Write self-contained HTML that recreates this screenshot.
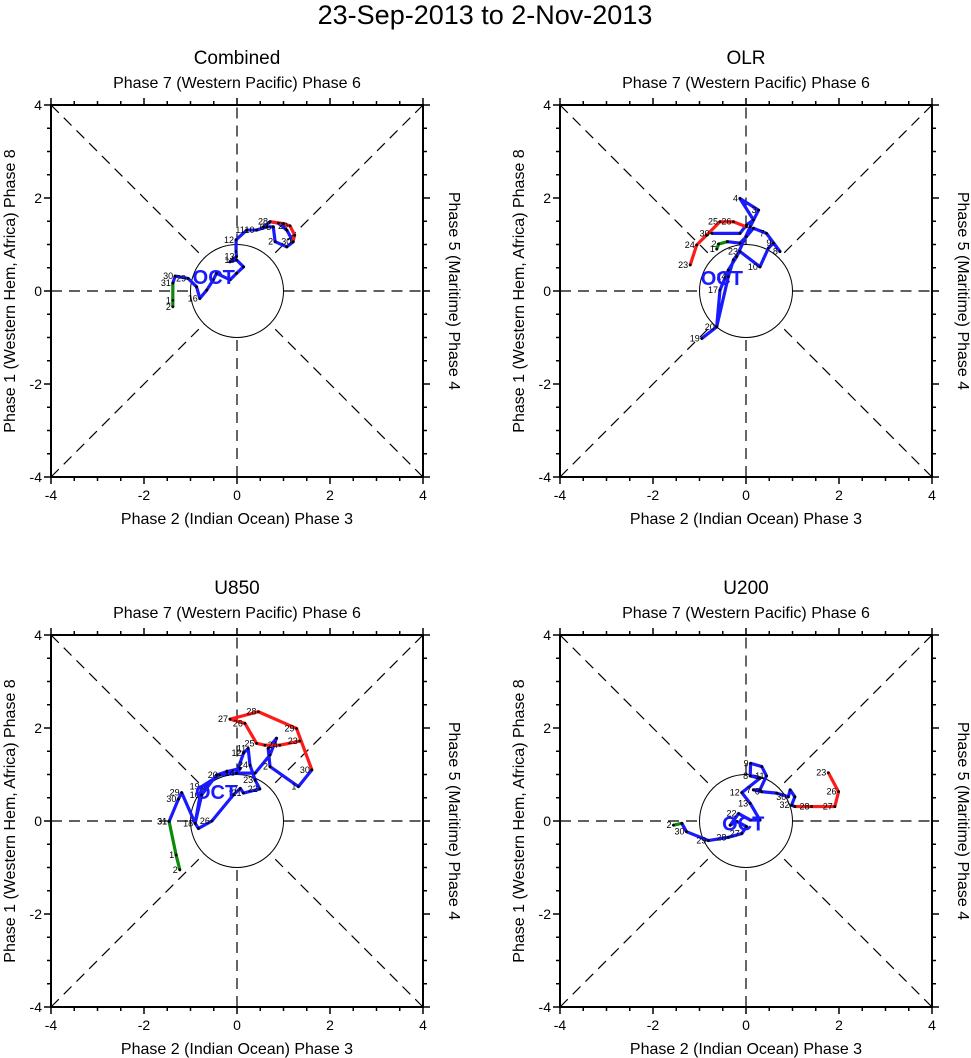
<!DOCTYPE html>
<html><head><meta charset="utf-8"><style>
html,body{margin:0;padding:0;background:#fff;}
svg{display:block;font-family:"Liberation Sans",sans-serif;}
</style></head><body>
<svg id="root" width="971" height="1058" viewBox="0 0 971 1058">
<text x="485" y="24" text-anchor="middle" font-size="27">23-Sep-2013 to 2-Nov-2013</text>
</svg>
<script>
// ---- data (RMM1, RMM2 values) ----
const combGreenX=[-1.38,-1.38,-1.38];
const combGreenY=[-0.34,-0.20,0.17];
const combGreenL=['2','1','31'];
const combBlueX=[-1.38,-1.33,-1.05,-0.87,-0.80,-0.65,-0.51,-0.44,-0.15,-0.01,0.14,-0.01,-0.15,-0.01,-0.02,-0.02,0.21,0.42,0.64,0.78,0.82,1.07,1.21,1.07,0.89,0.71,0.57];
const combBlueY=[0.17,0.32,0.27,0.09,-0.16,0.02,0.24,0.38,0.24,0.38,0.52,0.67,0.63,0.74,0.85,1.10,1.31,1.31,1.38,1.38,1.06,0.95,1.06,1.31,1.46,1.49,1.38];
const combBlueL=['','30','29','','16','','','','','','','14','','13','','12','11','10','6','5','2','','30','','','',''];
const combRedX=[0.71,1.00,1.14,1.24,1.20];
const combRedY=[1.49,1.45,1.40,1.20,1.05];
const combRedL=['28','','29','',''];

const olrGreenX=[-0.63,-0.59,-0.40];
const olrGreenY=[0.90,1.01,1.06];
const olrGreenL=['1','2',''];
const olrBlueX=[-0.40,-0.13,0.01,0.16,0.44,0.73,0.59,0.48,0.30,-0.13,-0.27,-0.38,-0.63,-0.95,-0.63,-0.56,-0.38,-0.20,0.09,0.27,-0.13,0.16,0.01,-0.13,-0.74];
const olrBlueY=[1.06,1.03,1.17,1.35,1.24,0.85,1.03,0.92,0.52,0.85,0.67,0.31,-0.77,-1.02,-0.77,0.02,0.45,0.74,1.38,1.74,1.99,1.53,1.42,1.24,1.24];
const olrBlueL=['','','','','7','8','9','','10','23','','14','20','19','','17','','','','3','4','','','','30'];
const olrRedX=[-1.20,-1.06,-0.85,-0.56,-0.27,0.01];
const olrRedY=[0.56,0.99,1.20,1.49,1.49,1.38];
const olrRedL=['23','24','','25','26',''];

const u850GreenX=[-1.23,-1.31,-1.46];
const u850GreenY=[-1.05,-0.73,-0.01];
const u850GreenL=['2','1','31'];
const u850BlueX=[-1.46,-1.26,-1.19,-0.90,-0.76,-0.37,-0.01,0.07,-0.22,-0.44,-0.76,-0.90,-0.83,-0.54,-0.08,0.07,0.14,0.49,0.39,0.28,0.24,0.14,-0.01,0.39,0.71,0.85,0.67,0.71,1.32,1.61];
const u850BlueY=[-0.01,0.47,0.61,-0.05,0.74,0.99,1.03,1.13,1.06,0.99,0.56,-0.05,-0.16,0.00,0.56,0.70,0.60,0.69,0.88,1.20,1.56,1.46,1.03,1.03,1.42,1.78,1.56,1.17,0.74,1.10];
const u850BlueL=['31','30','29','18','19','20','14','','','','16','','','26','','17','21','22','23','24','11','12','','','','','','2','1','30'];
const u850RedX=[1.61,1.28,0.46,-0.15,0.17,0.42,0.60,0.92,1.35];
const u850RedY=[1.10,1.99,2.35,2.19,2.10,1.67,1.63,1.63,1.72];
const u850RedL=['','29','28','27','26','25','','24','23'];

const u200GreenX=[-1.56,-1.38];
const u200GreenY=[-0.09,-0.05];
const u200GreenL=['2',''];
const u200BlueX=[-1.38,-1.28,-0.81,-0.38,-0.09,0.01,-0.20,-0.34,-0.16,0.09,0.30,0.09,-0.09,0.30,0.09,0.10,0.34,0.44,0.30,0.16,0.34,0.66,0.91,0.95,1.05,0.98,1.05];
const u200BlueY=[-0.05,-0.23,-0.42,-0.35,-0.27,-0.12,-0.01,-0.09,0.16,0.02,0.02,0.38,0.61,0.92,0.97,1.24,1.17,0.97,0.67,0.67,0.63,0.60,0.52,0.67,0.52,0.34,0.31];
const u200BlueL=['','30','29','28','27','','','','22','','','13','12','','8','9','','11','','7','6','','30','','','32',''];
const u200RedX=[1.05,1.41,1.91,1.99,1.77];
const u200RedY=[0.31,0.31,0.31,0.63,1.04];
const u200RedL=['','28','27','26','23'];

const tickVals=[-4,-2,0,2,4];
const panels=[
 {id:'combined',title:'Combined',cx:237,cy:291,octX:-0.5,octY:0.3,
  s:[[combGreenX,combGreenY,combGreenL,'#0a8a0a'],[combBlueX,combBlueY,combBlueL,'#1a1aff'],[combRedX,combRedY,combRedL,'#ff1a1a']]},
 {id:'olr',title:'OLR',cx:746,cy:291,octX:-0.52,octY:0.28,
  s:[[olrGreenX,olrGreenY,olrGreenL,'#0a8a0a'],[olrBlueX,olrBlueY,olrBlueL,'#1a1aff'],[olrRedX,olrRedY,olrRedL,'#ff1a1a']]},
 {id:'u850',title:'U850',cx:237,cy:821,octX:-0.45,octY:0.62,
  s:[[u850GreenX,u850GreenY,u850GreenL,'#0a8a0a'],[u850BlueX,u850BlueY,u850BlueL,'#1a1aff'],[u850RedX,u850RedY,u850RedL,'#ff1a1a']]},
 {id:'u200',title:'U200',cx:746,cy:821,octX:-0.06,octY:-0.05,
  s:[[u200GreenX,u200GreenY,u200GreenL,'#0a8a0a'],[u200BlueX,u200BlueY,u200BlueL,'#1a1aff'],[u200RedX,u200RedY,u200RedL,'#ff1a1a']]}
];
const K=46.5, NS='http://www.w3.org/2000/svg';
const root=document.getElementById('root');
function mk(tag,attrs,parent,txt){const e=document.createElementNS(NS,tag);for(const k in attrs)e.setAttribute(k,attrs[k]);if(txt!==undefined)e.textContent=txt;parent.appendChild(e);return e;}
panels.forEach(p=>{
 const sx=v=>p.cx+v*K, sy=v=>p.cy-v*K;
 const g=mk('g',{},root);
 
 
 const t=mk('text',{x:p.cx,y:p.cy-227,'text-anchor':'middle','font-size':19},g,p.title);
 
 
 const tt=mk('text',{x:p.cx,y:p.cy-203,'text-anchor':'middle','font-size':16},g,'Phase 7 (Western Pacific) Phase 6');
 
 
 const bt=mk('text',{x:p.cx,y:p.cy+233,'text-anchor':'middle','font-size':16},g,'Phase 2 (Indian Ocean) Phase 3');
 
 
 const lt=mk('text',{x:0,y:0,'text-anchor':'middle','font-size':16,transform:`translate(${p.cx-222},${p.cy}) rotate(-90)`},g,'Phase 1 (Western Hem, Africa) Phase 8');
 
 
 const rt=mk('text',{x:0,y:0,'text-anchor':'middle','font-size':16,transform:`translate(${p.cx+212},${p.cy}) rotate(90)`},g,'Phase 5 (Maritime) Phase 4');
 
 
 // dashed guide lines
 const dl=[[-4,0,-1,0],[1,0,4,0],[0,-4,0,-1],[0,1,0,4]];
 const c=Math.SQRT1_2;
 [[1,1],[1,-1],[-1,1],[-1,-1]].forEach(d=>dl.push([d[0]*4,d[1]*4,d[0]*c,d[1]*c]));
 dl.forEach(l=>{const e=mk('line',{x1:sx(l[0]),y1:sy(l[1]),x2:sx(l[2]),y2:sy(l[3]),stroke:'#000','stroke-width':1.2,'stroke-dasharray':'11,7'},g);
  
  });
 const ci=mk('circle',{cx:p.cx,cy:p.cy,r:K,fill:'none',stroke:'#000','stroke-width':1},g);
 
 
 // frame
 const fr=mk('rect',{x:sx(-4),y:sy(4),width:8*K,height:8*K,fill:'none',stroke:'#000','stroke-width':2},g);
 
 
 for(let v=-4;v<=4.001;v+=0.5){
  const maj=Math.abs(v%2)<0.01, L=maj?7:4;
  mk('line',{x1:sx(v),y1:sy(-4),x2:sx(v),y2:sy(-4)+L,stroke:'#000','stroke-width':1.5},g);
  mk('line',{x1:sx(v),y1:sy(4),x2:sx(v),y2:sy(4)-L,stroke:'#000','stroke-width':1.5},g);
  mk('line',{x1:sx(-4),y1:sy(v),x2:sx(-4)-L,y2:sy(v),stroke:'#000','stroke-width':1.5},g);
  mk('line',{x1:sx(4),y1:sy(v),x2:sx(4)+L,y2:sy(v),stroke:'#000','stroke-width':1.5},g);
 }
 tickVals.forEach(v=>{
  const a=mk('text',{x:sx(v),y:sy(-4)+23,'text-anchor':'middle','font-size':14},g,String(v));
  
  
  const b=mk('text',{x:sx(-4)-9,y:sy(v)+5,'text-anchor':'end','font-size':14},g,String(v));
  
  
 });
 // series
 const names=['september-track','october-track','november-track'];
 p.s.forEach((s,i)=>{
  const pts=s[0].map((x,j)=>sx(x)+','+sy(s[1][j])).join(' ');
  const pl=mk('polyline',{points:pts,fill:'none',stroke:s[3],'stroke-width':3.2,'stroke-linejoin':'round'},g);
  
  
 });
 p.s.forEach(s=>{
  s[0].forEach((x,j)=>{
   mk('circle',{cx:sx(x),cy:sy(s[1][j]),r:1.4,fill:'#000'},g);
   if(s[2][j]){const lb=mk('text',{x:sx(x)-2,y:sy(s[1][j])+3,'text-anchor':'end','font-size':9},g,s[2][j]);
    
    }
  });
 });
 const oc=mk('text',{x:sx(p.octX),y:sy(p.octY)+7,'text-anchor':'middle','font-size':20,'font-weight':'bold',fill:'#1a1aff'},g,'OCT');
 
 
});
</script>
</body></html>
